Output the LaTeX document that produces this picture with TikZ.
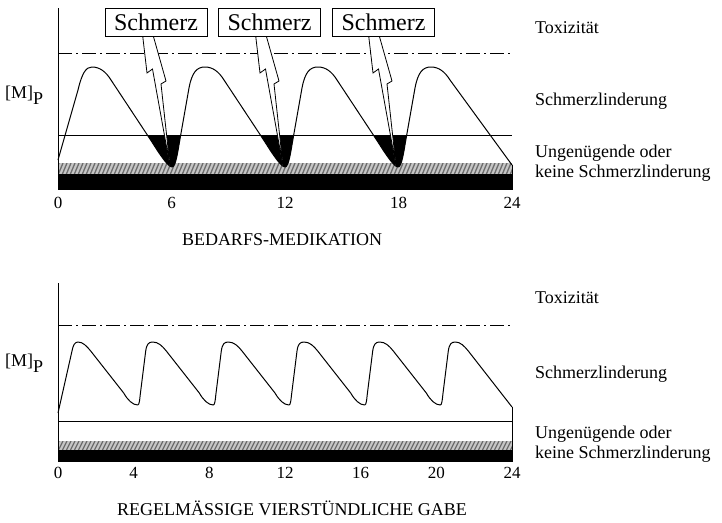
\documentclass[tikz,border=0pt]{standalone}
\usepackage{fontspec}
\setmainfont{Liberation Serif}
\begin{document}
\begin{tikzpicture}[x=1pt,y=-1pt,
  lbl/.style={anchor=base west, font=\fontsize{18}{20}\selectfont, inner sep=0},
  ticklbl/.style={anchor=base, font=\fontsize{17}{18}\selectfont, inner sep=0},
  ttl/.style={anchor=base, font=\fontsize{18}{20}\selectfont, inner sep=0},
  painbox/.style={draw, line width=0.8pt, fill=white, minimum width=102pt, minimum height=28pt, inner sep=0, font=\fontsize{24}{26}\selectfont},
  thinline/.style={line width=0.8pt},
  conc/.style={line width=1pt, line join=round},
  tox/.style={line width=0.8pt, dash pattern=on 14pt off 4pt on 2pt off 4pt},
  bolt/.style={draw, fill=white, line width=0.8pt, line join=miter},
  hatch/.style={gray!85!black, line width=1.3pt}]
\useasboundingbox (0,0) rectangle (722,522);

\def\topcurve{(58,160) -- (78,90) .. controls (82,73) and (86,67) .. (92,67)
  foreach \T in {172,285,398}{
   .. controls ({\T-72},67) and ({\T-66},72) .. ({\T-61},80) -- ({\T-22},139) .. controls ({\T-17},146.5) and ({\T-5},167) .. (\T,167)
   .. controls ({\T+4},167) and ({\T+6},150) .. ({\T+8},139) -- ({\T+17},88) .. controls ({\T+20},72) and ({\T+25},67) .. ({\T+33},67)
  }
  .. controls (439,67) and (445,72) .. (450,80) -- (512,165)}

\def\botcurve{(58,413) -- (72,351) .. controls (73,345) and (75,342) .. (78,342)
  foreach \T in {137.7,213.3,289,364.7,440.3}{
   .. controls ({\T-55},342) and ({\T-51},346) .. ({\T-47},351) -- ({\T-14},393) .. controls ({\T-10},400) and ({\T-5},405) .. (\T,405)
   .. controls ({\T+1.5},405) and ({\T+2},400) .. ({\T+2.5},395) -- ({\T+8},351) .. controls ({\T+9},344) and ({\T+11},342) .. ({\T+15},342)
  }
  .. controls (460.3,342) and (464.3,346) .. (468.3,351) -- (512,407)}

% ================= top chart =================
\coordinate (a1top) at (58,8);
\coordinate (a1bot) at (58,190);
\begin{scope}
  \clip (58,163) rectangle (512,175);
  \fill[gray!45] (58,163) rectangle (512,175);
  \foreach \x in {50,54,...,512} \draw[hatch] (\x,175) -- ({\x+5},163);
\end{scope}
\fill (58,174) rectangle (512,190);
\draw[thinline] (a1top) -- (a1bot);
\draw[thinline] (512,165) -- (512,190);
\draw[tox] (58,53) -- (512,53);
\draw[thinline] (58,135) -- (512,135);
\begin{scope}
  \clip \topcurve -- (512,0) -- (58,0) -- cycle;
  \foreach \T in {172,285,398} \fill ({\T-32},135) rectangle ({\T+16},172);
\end{scope}
\draw[conc] \topcurve;
\foreach \T in {172,285,398}
  \draw[bolt] ({\T-29.3},36) -- ({\T-25},73) -- ({\T-19.5},69) -- ({\T-2},166) -- ({\T-11},84) -- ({\T-6},81) -- ({\T-18.7},36) -- cycle;
\node[painbox] (s1) at (156,22) {Schmerz};
\node[painbox] (s2) at (269.5,22) {Schmerz};
\node[painbox] (s3) at (383.5,22) {Schmerz};

\node[anchor=base west, inner sep=0, font=\fontsize{18}{20}\selectfont] (mp1) at (5,98) {[M]\raisebox{-6pt}{P}};
\node[lbl] (tox1) at (535,33) {Toxizität};
\node[lbl] (sl1) at (535,105) {Schmerzlinderung};
\node[lbl] (ug1) at (535,157) {Ungenügende oder};
\node[lbl] (ks1) at (535,177) {keine Schmerzlinderung};
\foreach \t/\n in {0/t0,6/t6,12/t12,18/t18,24/t24}
  \node[ticklbl] (a\n) at ({58+18.917*\t},208) {\t};
\node[ttl] (title1) at (282,245) {BEDARFS-MEDIKATION};

% ================= bottom chart =================
\coordinate (a2top) at (58,283);
\coordinate (a2bot) at (58,462);
\begin{scope}
  \clip (58,441) rectangle (512,451);
  \fill[gray!45] (58,441) rectangle (512,451);
  \foreach \x in {50,54,...,512} \draw[hatch] (\x,451) -- ({\x+5},441);
\end{scope}
\fill (58,450) rectangle (512,462);
\draw[thinline] (a2top) -- (a2bot);
\draw[thinline] (512,407) -- (512,462);
\draw[tox] (58,325) -- (512,325);
\draw[thinline] (58,421) -- (512,421);
\draw[conc] \botcurve;

\node[anchor=base west, inner sep=0, font=\fontsize{18}{20}\selectfont] (mp2) at (5,366) {[M]\raisebox{-6pt}{P}};
\node[lbl] (tox2) at (535,303) {Toxizität};
\node[lbl] (sl2) at (535,378) {Schmerzlinderung};
\node[lbl] (ug2) at (535,438) {Ungenügende oder};
\node[lbl] (ks2) at (535,458) {keine Schmerzlinderung};
\foreach \t/\n in {0/u0,4/u4,8/u8,12/u12,16/u16,20/u20,24/u24}
  \node[ticklbl] (b\n) at ({58+18.917*\t},478) {\t};
\node[ttl] (title2) at (292,515) {REGELMÄSSIGE VIERSTÜNDLICHE GABE};
\end{tikzpicture}
\end{document}
